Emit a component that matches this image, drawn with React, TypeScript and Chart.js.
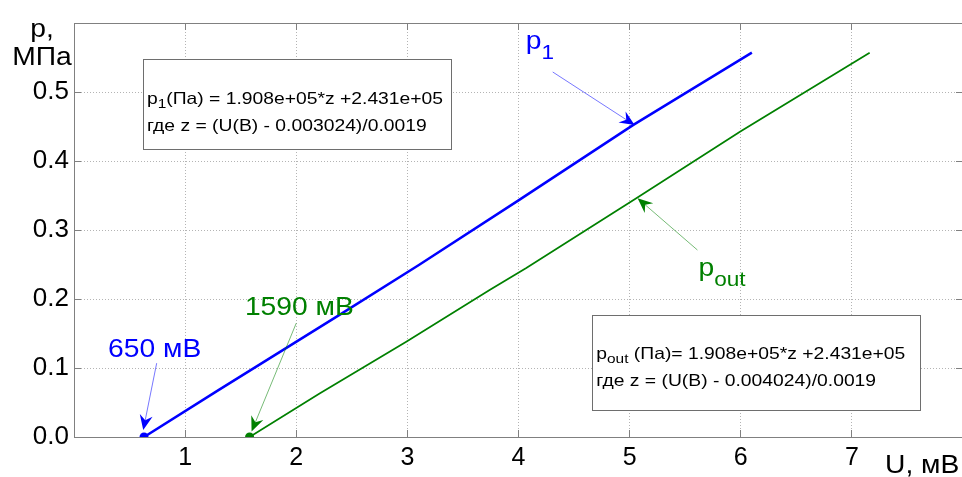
import { useEffect, useRef } from 'react';
import { Chart, registerables } from 'chart.js';

Chart.register(...registerables);

// ---- data ----
const p1U = [0.63, 1.3, 2.4, 3.1, 4.0, 5.03, 6.1];
const p1P = [0, 0.068, 0.178, 0.249, 0.343, 0.452, 0.557];
const poutU = [1.58, 2.21, 2.99, 3.74, 4.07, 5.06, 6.0, 7.16];
const poutP = [0, 0.063, 0.138, 0.213, 0.245, 0.346, 0.443, 0.557];
const xTickLabels = ['1', '2', '3', '4', '5', '6', '7'];
const yTickLabels = ['0.0', '0.1', '0.2', '0.3', '0.4', '0.5'];

const BLUE = '#0000ff';
const GREEN = '#008000';
const AXIS = '#808080';
const GRID = '#b4b4b4';
const FONT = '"Liberation Sans", Arial, sans-serif';

type Part = { t: string; sub?: boolean };

// annotation anchors in data units (U, p)
const notes = [
  { parts: [{ t: '650 мВ' }], color: BLUE, at: [0.306, 0.116], tail: [0.744, 0.107], head: [0.623, 0.01] },
  { parts: [{ t: '1590 мВ' }], color: GREEN, at: [1.538, 0.177], tail: [2.0, 0.165], head: [1.598, 0.008] },
  { parts: [{ t: 'p' }, { t: '1', sub: true }], color: BLUE, at: [4.065, 0.562], tail: [4.308, 0.529], head: [5.045, 0.452] },
  { parts: [{ t: 'p' }, { t: 'out', sub: true }], color: GREEN, at: [5.62, 0.233], tail: [5.61, 0.271], head: [5.072, 0.346] },
];

const boxes = [
  {
    tl: [0.623, 0.547], br: [3.4, 0.417], textX: 0.656, baselines: [0.4826, 0.4439],
    lines: [
      [{ t: 'p' }, { t: '1', sub: true }, { t: '(Па) = 1.908e+05*z +2.431e+05' }],
      [{ t: 'где z = (U(B) - 0.003024)/0.0019' }],
    ] as Part[][],
  },
  {
    tl: [4.67, 0.1754], br: [7.614, 0.0391], textX: 4.7, baselines: [0.1130, 0.0732],
    lines: [
      [{ t: 'p' }, { t: 'out', sub: true }, { t: ' (Па)= 1.908e+05*z +2.431e+05' }],
      [{ t: 'где z = (U(B) - 0.004024)/0.0019' }],
    ] as Part[][],
  },
];

function drawRich(ctx: CanvasRenderingContext2D, x: number, y: number, parts: Part[], size: number, sx: number, color: string, subScale = 0.78, subDrop = 0.3) {
  ctx.save();
  ctx.translate(x, y);
  ctx.scale(sx, 1);
  ctx.fillStyle = color;
  ctx.textAlign = 'left';
  ctx.textBaseline = 'alphabetic';
  let cx = 0;
  for (const p of parts) {
    const fs = p.sub ? size * subScale : size;
    ctx.font = `${fs}px ${FONT}`;
    ctx.fillText(p.t, cx, p.sub ? size * subDrop : 0);
    cx += ctx.measureText(p.t).width;
  }
  ctx.restore();
}

function arrow(ctx: CanvasRenderingContext2D, x0: number, y0: number, x1: number, y1: number, color: string) {
  const ang = Math.atan2(y1 - y0, x1 - x0);
  const L = 15, W = 6.5, N = 5;
  ctx.save();
  ctx.strokeStyle = color;
  ctx.globalAlpha = 0.6;
  ctx.lineWidth = 0.9;
  ctx.beginPath();
  ctx.moveTo(x0, y0);
  ctx.lineTo(x1 - Math.cos(ang) * (L - N), y1 - Math.sin(ang) * (L - N));
  ctx.stroke();
  ctx.globalAlpha = 1;
  ctx.translate(x1, y1);
  ctx.rotate(ang);
  ctx.fillStyle = color;
  ctx.beginPath();
  ctx.moveTo(0, 0);
  ctx.lineTo(-L, -W);
  ctx.lineTo(-L + N, 0);
  ctx.lineTo(-L, W);
  ctx.closePath();
  ctx.fill();
  ctx.restore();
}

const annotPlugin = {
  id: 'annot',
  afterDraw(chart: any) {
    const { ctx, chartArea: ca } = chart;
    const xs = chart.scales.x, ys = chart.scales.y;
    const px = (u: number) => xs.getPixelForValue(u);
    const py = (p: number) => ys.getPixelForValue(p);
    const al = (v: number) => Math.round(v - 0.5) + 0.5;
    ctx.save();
    ctx.strokeStyle = AXIS;
    ctx.lineWidth = 1;
    ctx.beginPath();
    ctx.moveTo(ca.left, al(ca.top));
    ctx.lineTo(ca.right, al(ca.top));
    ctx.moveTo(al(ca.right), ca.top);
    ctx.lineTo(al(ca.right), ca.bottom);
    // inner tick marks
    xs.ticks.forEach((t: any) => {
      const X = al(px(t.value));
      ctx.moveTo(X, ca.bottom);
      ctx.lineTo(X, ca.bottom - 7);
      ctx.moveTo(X, ca.top);
      ctx.lineTo(X, ca.top + 7);
    });
    ys.ticks.forEach((t: any) => {
      const Y = al(py(t.value));
      ctx.moveTo(ca.left, Y);
      ctx.lineTo(ca.left + 7, Y);
      ctx.moveTo(ca.right, Y);
      ctx.lineTo(ca.right - 7, Y);
    });
    ctx.stroke();

    // boxes
    for (const b of boxes) {
      const x0 = al(px(b.tl[0])), y0 = al(py(b.tl[1]));
      const x1 = al(px(b.br[0])), y1 = al(py(b.br[1]));
      ctx.fillStyle = '#ffffff';
      ctx.fillRect(x0, y0, x1 - x0, y1 - y0);
      ctx.strokeStyle = '#6e6e6e';
      ctx.lineWidth = 1;
      ctx.strokeRect(x0, y0, x1 - x0, y1 - y0);
      b.lines.forEach((ln, i) => drawRich(ctx, px(b.textX), py(b.baselines[i]), ln, 16.5, 1.17, '#000', 0.8, 0.26));
    }

    // notes
    for (const n of notes) {
      arrow(ctx, px(n.tail[0]), py(n.tail[1]), px(n.head[0]), py(n.head[1]), n.color);
      drawRich(ctx, px(n.at[0]), py(n.at[1]), n.parts, 25, 1.13, n.color, 0.8, 0.4);
    }

    // axis titles
    ctx.fillStyle = '#000';
    ctx.font = `25px ${FONT}`;
    ctx.textAlign = 'center';
    ctx.textBaseline = 'alphabetic';
    const cxT = ca.left - 32;
    ctx.save();
    ctx.translate(cxT, ca.top + 14);
    ctx.scale(1.13, 1);
    ctx.fillText('p,', 0, 0);
    ctx.restore();
    ctx.save();
    ctx.translate(cxT, ca.top + 42);
    ctx.scale(1.13, 1);
    ctx.fillText('МПа', 0, 0);
    ctx.restore();
    ctx.save();
    ctx.translate(ca.left + 811, ca.bottom + 36);
    ctx.scale(1.13, 1);
    ctx.textAlign = 'left';
    ctx.fillText('U, мВ', 0, 0);
    ctx.restore();
    ctx.restore();
  },
};

export default function App() {
  const ref = useRef<HTMLCanvasElement>(null);
  useEffect(() => {
    const canvas = ref.current!;
    const ptRadius = (c: any) => (c.dataIndex === 0 ? 4.5 : 0);
    const chart = new Chart(canvas, {
      type: 'scatter',
      data: {
        datasets: [
          {
            data: p1U.map((u, i) => ({ x: u, y: p1P[i] })),
            borderColor: BLUE,
            backgroundColor: BLUE,
            borderWidth: 2.5,
            showLine: true,
            pointRadius: ptRadius,
            pointBorderWidth: 0,
            pointHoverRadius: 0,
          },
          {
            data: poutU.map((u, i) => ({ x: u, y: poutP[i] })),
            borderColor: GREEN,
            backgroundColor: GREEN,
            borderWidth: 1.7,
            showLine: true,
            pointRadius: ptRadius,
            pointBorderWidth: 0,
            pointHoverRadius: 0,
          },
        ],
      },
      options: {
        responsive: false,
        animation: false,
        events: [],
        layout: { padding: { top: 23, right: 9, left: 0, bottom: 0 } },
        plugins: { legend: { display: false }, tooltip: { enabled: false } },
        scales: {
          x: {
            type: 'linear',
            min: 0,
            max: 8,
            ticks: {
              stepSize: 1,
              autoSkip: false,
              maxRotation: 0,
              padding: 6,
              color: '#000',
              font: { family: FONT, size: 25 },
              callback: (_v: any, i: number) => (i >= 1 && i <= 7 ? xTickLabels[i - 1] : ''),
            },
            grid: { color: GRID, lineWidth: 1, drawTicks: false },
            border: { display: true, color: AXIS, width: 1, dash: [1, 2] },
            afterFit: (s: any) => { s.height = 40; },
          },
          y: {
            type: 'linear',
            min: 0,
            max: 0.6,
            ticks: {
              stepSize: 0.1,
              autoSkip: false,
              padding: 5,
              color: '#000',
              font: { family: FONT, size: 26 },
              callback: (_v: any, i: number) => yTickLabels[i] ?? '',
            },
            grid: { color: GRID, lineWidth: 1, drawTicks: false },
            border: { display: true, color: AXIS, width: 1, dash: [1, 2] },
            afterFit: (s: any) => { s.width = 74; },
          },
        },
      } as any,
      plugins: [annotPlugin],
    });
    return () => chart.destroy();
  }, []);
  return (
    <div style={{ position: 'fixed', left: 0, top: 0, width: 962, height: 477, overflow: 'hidden', background: '#fff' }}>
      <canvas ref={ref} width={972} height={477} style={{ display: 'block', width: 972, height: 477 }} />
    </div>
  );
}
